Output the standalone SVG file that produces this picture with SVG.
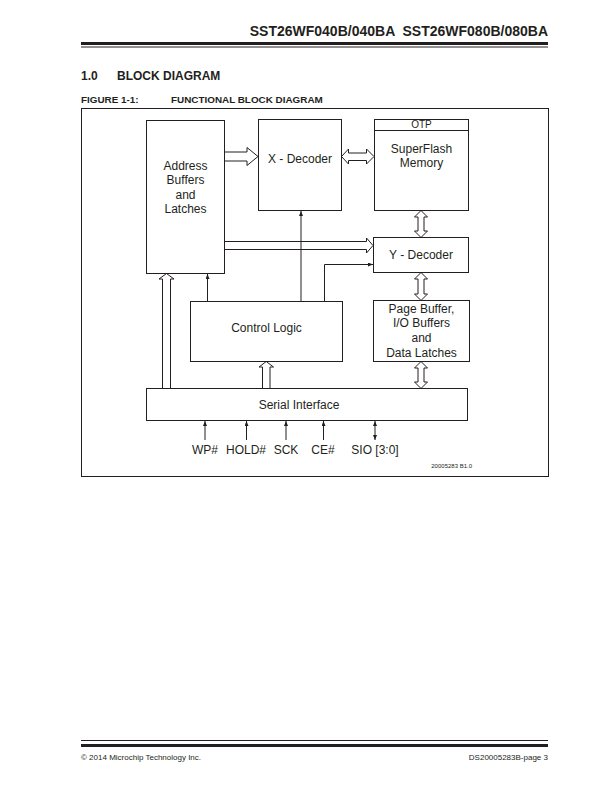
<svg xmlns="http://www.w3.org/2000/svg" width="612" height="792" viewBox="0 0 612 792">
<style>
text{font-family:"Liberation Sans",Arial,sans-serif;fill:#231f20}
.box{fill:#fff;stroke:#231f20;stroke-width:1}
.lbl{font-size:12px;text-anchor:middle}
.hol{fill:#fff;stroke:#231f20;stroke-width:1;stroke-linejoin:miter}
.thin{fill:none;stroke:#231f20;stroke-width:1}
.bold{font-weight:bold}
</style>
<defs>
<marker id="ah" markerUnits="userSpaceOnUse" markerWidth="6" markerHeight="5" refX="5" refY="2" orient="auto-start-reverse">
<path d="M0,0 L5,2 L0,4 Z" fill="#231f20"/>
</marker>
</defs>
<rect width="612" height="792" fill="#fff"/>
<g id="header">
<text x="548" y="36" font-size="14" class="bold" text-anchor="end" xml:space="preserve" style="white-space:pre">SST26WF040B/040BA  SST26WF080B/080BA</text>
<rect x="81" y="42" width="467" height="3" fill="#231f20"/>
<rect x="81" y="46.5" width="467" height="1" fill="#231f20"/>
<text x="81" y="80" font-size="12" class="bold">1.0</text>
<text x="117" y="80" font-size="12" class="bold">BLOCK DIAGRAM</text>
<text x="81" y="103" font-size="9.9" class="bold">FIGURE 1-1:</text>
<text x="171" y="103" font-size="9.9" class="bold">FUNCTIONAL BLOCK DIAGRAM</text>
</g>
<rect id="frame" x="81.5" y="108.5" width="467" height="368" fill="none" stroke="#231f20" stroke-width="1"/>
<g id="connectors">
<path class="hol" d="M224.5,152 H247 V147.5 L258,156.5 L247,165.5 V161 H224.5"/>
<path class="hol" d="M341.5,156.5 L348.5,149 V153 H366.5 V149 L374,156.5 L366.5,164 V160.5 H348.5 V164 Z"/>
<path class="hol" d="M224.5,241.5 H366.5 V238 L373,245.5 L366.5,253 V249.5 H224.5"/>
<path class="hol" d="M162.5,388 V279 H159 L166.5,273.5 L174,279 H170.5 V388"/>
<path class="hol" d="M262.5,388 V367 H259 L266.25,361.5 L273.5,367 H270 V388"/>
<path class="hol" d="M421,210.5 L427.5,217 H424 V231 H427.5 L421,237.5 L414.5,231 H418 V217 H414.5 Z"/>
<path class="hol" d="M421,272.5 L427.5,279 H424 V294 H427.5 L421,300.5 L414.5,294 H418 V279 H414.5 Z"/>
<path class="hol" d="M421,361.5 L427.5,368 H424 V382 H427.5 L421,388.5 L414.5,382 H418 V368 H414.5 Z"/>
<path class="thin" d="M301,301.5 V211" marker-end="url(#ah)"/>
<path class="thin" d="M324.5,301.5 V264.5 H373" marker-end="url(#ah)"/>
<path class="thin" d="M207.5,301.5 V274" marker-end="url(#ah)"/>
<path class="thin" d="M205,440 V421" marker-end="url(#ah)"/>
<path class="thin" d="M246.5,440 V421" marker-end="url(#ah)"/>
<path class="thin" d="M286,440 V421" marker-end="url(#ah)"/>
<path class="thin" d="M323.5,440 V421" marker-end="url(#ah)"/>
<path class="thin" d="M375,440 V421" marker-start="url(#ah)" marker-end="url(#ah)"/>
</g>
<g id="address">
<rect class="box" x="146.5" y="120.5" width="78" height="153"/>
<text class="lbl" x="185.5" y="169.5">Address</text>
<text class="lbl" x="185.5" y="184">Buffers</text>
<text class="lbl" x="185.5" y="198.5">and</text>
<text class="lbl" x="185.5" y="213">Latches</text>
</g>
<g id="xdecoder">
<rect class="box" x="258.5" y="119.5" width="83" height="91"/>
<text class="lbl" x="300" y="162.5">X - Decoder</text>
</g>
<g id="superflash">
<rect class="box" x="374.5" y="119.5" width="94" height="91"/>
<line x1="374.5" y1="130.5" x2="468.5" y2="130.5" stroke="#231f20" stroke-width="1"/>
<text x="421.5" y="128" font-size="10" text-anchor="middle">OTP</text>
<text class="lbl" x="421.5" y="153">SuperFlash</text>
<text class="lbl" x="421.5" y="167">Memory</text>
</g>
<g id="ydecoder">
<rect class="box" x="373.5" y="237.5" width="95" height="35"/>
<text class="lbl" x="421" y="259">Y - Decoder</text>
</g>
<g id="control">
<rect class="box" x="190.5" y="301.5" width="152" height="60"/>
<text class="lbl" x="266.5" y="331.5">Control Logic</text>
</g>
<g id="pagebuffer">
<rect class="box" x="373.5" y="300.5" width="96" height="61"/>
<text class="lbl" x="421.5" y="312.5">Page Buffer,</text>
<text class="lbl" x="421.5" y="327">I/O Buffers</text>
<text class="lbl" x="421.5" y="342">and</text>
<text class="lbl" x="421.5" y="356.5">Data Latches</text>
</g>
<g id="serial">
<rect class="box" x="146.5" y="388.5" width="321" height="32"/>
<text class="lbl" x="299" y="409">Serial Interface</text>
</g>
<g id="pins">
<text class="lbl" x="205" y="454">WP#</text>
<text class="lbl" x="246" y="454">HOLD#</text>
<text class="lbl" x="286" y="454">SCK</text>
<text class="lbl" x="323" y="454">CE#</text>
<text class="lbl" x="375" y="454">SIO [3:0]</text>
</g>
<text x="472" y="467.5" font-size="6" text-anchor="end">20005283 B1.0</text>
<g id="footer">
<rect x="81" y="740" width="467" height="1" fill="#231f20"/>
<rect x="81" y="744" width="467" height="3" fill="#231f20"/>
<text x="81" y="760" font-size="8">© 2014 Microchip Technology Inc.</text>
<text x="548" y="760" font-size="8" text-anchor="end">DS20005283B-page 3</text>
</g>
</svg>
